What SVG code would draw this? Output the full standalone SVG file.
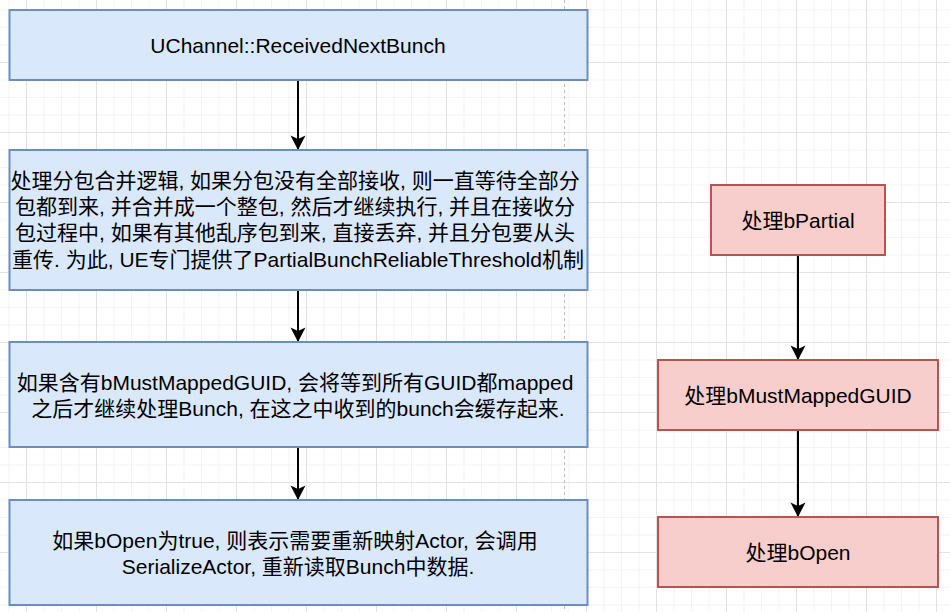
<svg xmlns="http://www.w3.org/2000/svg" width="950" height="612" viewBox="0 0 950 612">
<defs>
<pattern id="grid" patternUnits="userSpaceOnUse" x="26" y="62" width="70" height="70">
<path d="M18 0V70M35.5 0V70M53 0V70M0 18H70M0 35.5H70M0 53H70" stroke="#f3f3f3" stroke-width="1" fill="none"/>
<path d="M0.5 0V70M0 0.5H70" stroke="#e2e2e2" stroke-width="1" fill="none"/>
</pattern>
<marker id="arrow" viewBox="0 0 16 16" refX="15" refY="8" markerWidth="16" markerHeight="16" markerUnits="userSpaceOnUse" orient="auto">
<path d="M15 8L0.5 0.5L4 8L0.5 15.5Z" fill="#000"/>
</marker>
<style>
.blue{fill:#dae8fc;stroke:#6c8ebf;stroke-width:2}
.red{fill:#f8cecc;stroke:#b85450;stroke-width:2}
.t{font-family:"Liberation Sans","Noto Sans CJK SC",sans-serif;font-size:21px;fill:#000;text-anchor:middle}
.edge{stroke:#000;stroke-width:2;fill:none;marker-end:url(#arrow)}
</style>
</defs>
<rect width="950" height="612" fill="#fff"/>
<rect width="950" height="612" fill="url(#grid)"/>
<line x1="564.5" y1="0" x2="564.5" y2="612" stroke="#bdbdbd" stroke-width="1" stroke-dasharray="3,3"/>

<g id="connectors">
<path class="edge" d="M298 80V150"/>
<path class="edge" d="M298 290V342"/>
<path class="edge" d="M298 447V500"/>
<path class="edge" d="M798 255V360"/>
<path class="edge" d="M798 430V517"/>
</g>

<g id="n1">
<rect class="blue" x="9.5" y="10" width="578" height="70"/>
<text class="t" x="298" y="52.5">UChannel::ReceivedNextBunch</text>
</g>
<g id="n2">
<rect class="blue" x="9.5" y="150" width="578" height="140"/>
<text class="t" x="298" y="188">
<tspan x="298" y="188">处理分包合并逻辑, 如果分包没有全部接收, 则一直等待全部分</tspan>
<tspan x="298" y="214.2">包都到来, 并合并成一个整包, 然后才继续执行, 并且在接收分</tspan>
<tspan x="298" y="240.4">包过程中, 如果有其他乱序包到来, 直接丢弃, 并且分包要从头</tspan>
<tspan x="298" y="266.6">重传. 为此, UE专门提供了PartialBunchReliableThreshold机制</tspan>
</text>
</g>
<g id="n3">
<rect class="blue" x="9.5" y="342" width="578" height="105"/>
<text class="t">
<tspan x="298" y="389.5">如果含有bMustMappedGUID, 会将等到所有GUID都mapped</tspan>
<tspan x="298" y="415.7">之后才继续处理Bunch, 在这之中收到的bunch会缓存起来.</tspan>
</text>
</g>
<g id="n4">
<rect class="blue" x="9.5" y="500" width="578" height="105"/>
<text class="t">
<tspan x="298" y="548">如果bOpen为true, 则表示需要重新映射Actor, 会调用</tspan>
<tspan x="298" y="574.2">SerializeActor, 重新读取Bunch中数据.</tspan>
</text>
</g>
<g id="r1">
<rect class="red" x="711" y="185" width="174" height="70"/>
<text class="t" x="798" y="227.5">处理bPartial</text>
</g>
<g id="r2">
<rect class="red" x="658" y="360" width="280" height="70"/>
<text class="t" x="798" y="402.5">处理bMustMappedGUID</text>
</g>
<g id="r3">
<rect class="red" x="658" y="517" width="280" height="70"/>
<text class="t" x="798" y="559.5">处理bOpen</text>
</g>
</svg>
